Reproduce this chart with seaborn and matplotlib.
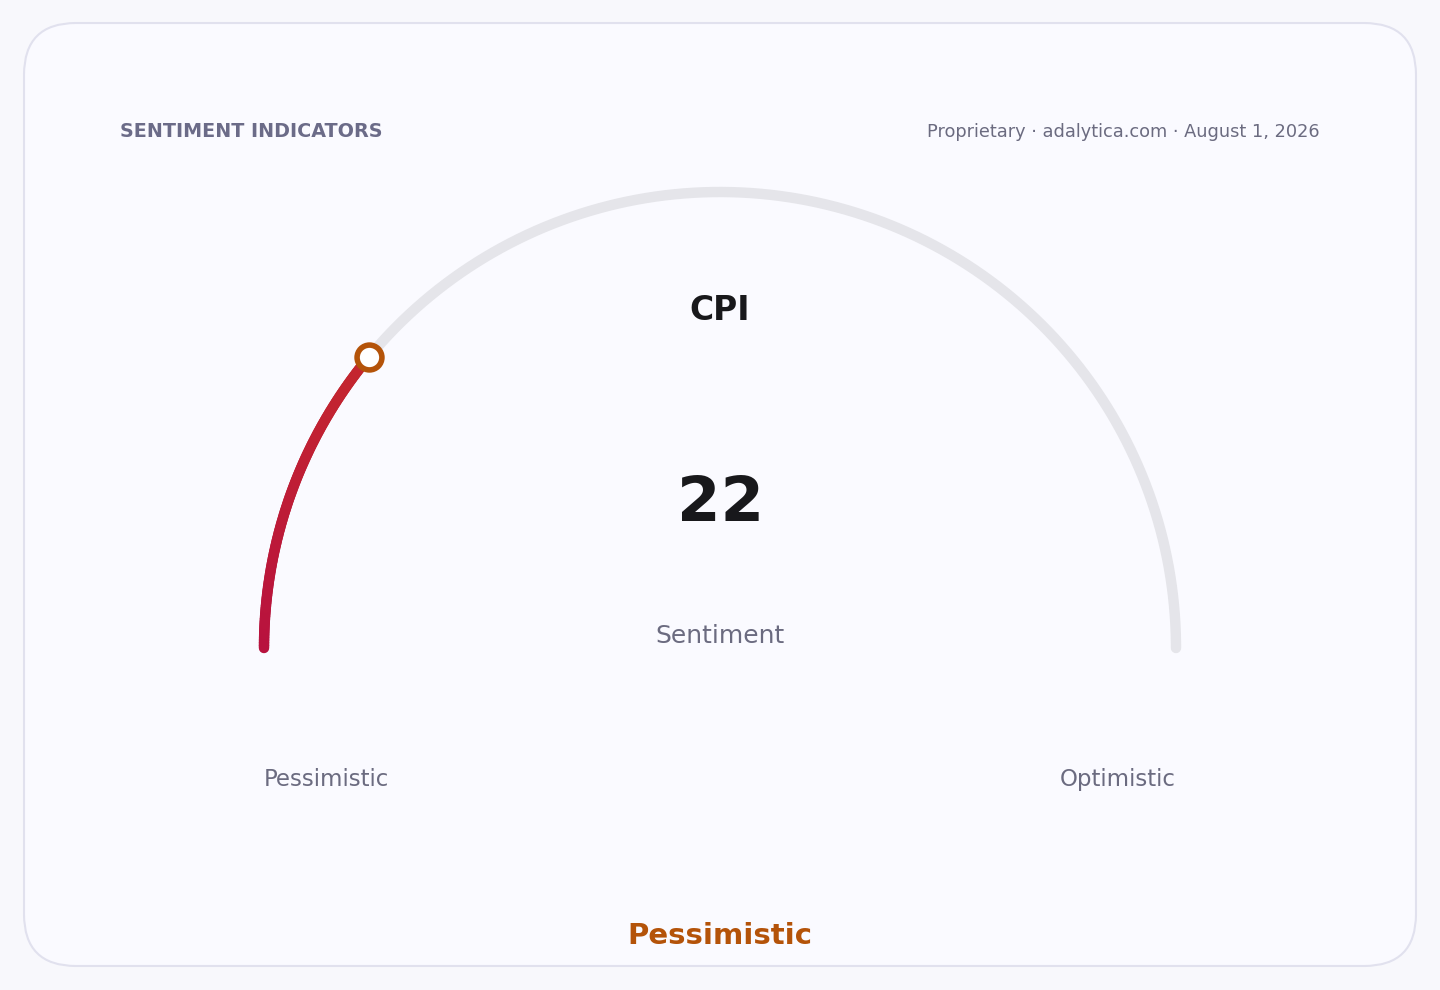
import numpy as np
import pandas as pd
import matplotlib
matplotlib.use('Agg')
import matplotlib.pyplot as plt
import seaborn as sns
from matplotlib.collections import LineCollection
from matplotlib.patches import FancyBboxPatch
from matplotlib.colors import LinearSegmentedColormap

# Data
indicator = 'CPI'
value = 22
scale_range = [0, 100]
end_labels = ['Pessimistic', 'Optimistic']
reading = 'Pessimistic'
caption = 'Sentiment'
header_left = 'SENTIMENT INDICATORS'
header_right = 'Proprietary · adalytica.com · August 1, 2026'

sns.set_theme(style='white')
plt.rcParams['font.family'] = ['DejaVu Sans']

fig = plt.figure(figsize=(14.4, 9.9), dpi=100, facecolor='#f8f8fc')
ax = fig.add_axes([0, 0, 1, 1])
ax.set_xlim(0, 1440)
ax.set_ylim(990, 0)
ax.axis('off')

# card
card = FancyBboxPatch((24, 23), 1392, 943, boxstyle='round,pad=0,rounding_size=52',
                      facecolor='#fafaff', edgecolor='#e1e1ee', linewidth=1.5, zorder=0)
ax.add_patch(card)

# gauge geometry
cx, cy, r = 720, 648, 456

def to_angle(v):
    return np.pi * (1 - (v - scale_range[0]) / (scale_range[1] - scale_range[0]))

t = np.linspace(scale_range[0], scale_range[1], 300)
track = pd.DataFrame({'x': cx + r * np.cos(to_angle(t)), 'y': cy - r * np.sin(to_angle(t))})
sns.lineplot(data=track, x='x', y='y', sort=False, ax=ax, color='#e5e5ea',
             linewidth=7.5, solid_capstyle='round', zorder=1)

# filled part with gradient
tv = np.linspace(scale_range[0], value, 120)
px = cx + r * np.cos(to_angle(tv))
py = cy - r * np.sin(to_angle(tv))
pts = np.column_stack([px, py]).reshape(-1, 1, 2)
segs = np.concatenate([pts[:-1], pts[1:]], axis=1)
cmap = LinearSegmentedColormap.from_list('sent', ['#b8123e', '#c62a2c', '#d9542a', '#f59e0b', '#16a34a'])
frac = (tv[:-1] - scale_range[0]) / (scale_range[1] - scale_range[0])
lc = LineCollection(segs, colors=cmap(frac), linewidth=7.5, capstyle='round', zorder=2)
ax.add_collection(lc)

# marker
marker = pd.DataFrame({'x': [cx + r * np.cos(to_angle(value))], 'y': [cy - r * np.sin(to_angle(value))]})
sns.scatterplot(data=marker, x='x', y='y', ax=ax, s=320, color='white',
                edgecolor='#b45309', linewidth=4, zorder=3)

# text
ax.text(120, 137, header_left, fontsize=13.8, fontweight='bold', color='#6b6b88', ha='left', va='baseline')
ax.text(1320, 137, header_right, fontsize=12.8, color='#6b6b80', ha='right', va='baseline')
ax.text(cx, 320, indicator, fontsize=23.8, fontweight='bold', color='#18181b', ha='center', va='baseline')
ax.text(cx, 521, str(value), fontsize=45, fontweight='bold', color='#18181b', ha='center', va='baseline')
ax.text(cx, 643, caption, fontsize=18, color='#6b6b80', ha='center', va='baseline')
ax.text(cx - r, 786, end_labels[0], fontsize=16.5, color='#6b6b80', ha='left', va='baseline')
ax.text(cx + r, 786, end_labels[1], fontsize=16.5, color='#6b6b80', ha='right', va='baseline')
ax.text(cx, 944, reading, fontsize=21, fontweight='bold', color='#b45309', ha='center', va='baseline')

fig.savefig('out.png', dpi=100, facecolor=fig.get_facecolor())
